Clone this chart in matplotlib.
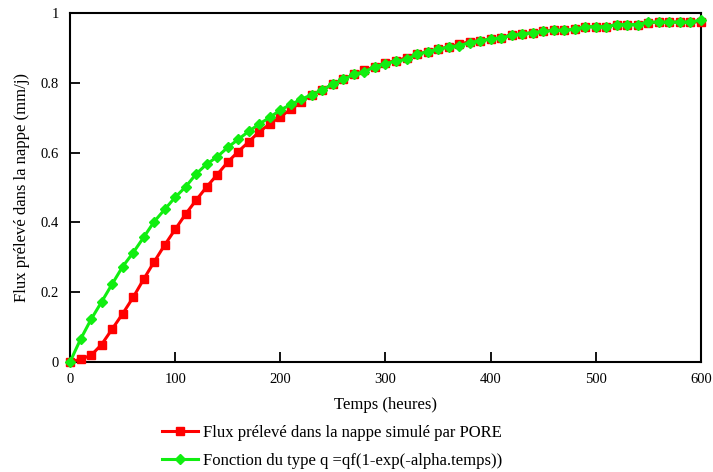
import matplotlib
matplotlib.use("Agg")
import matplotlib.pyplot as plt

plt.rcParams["font.family"] = ["Liberation Serif", "DejaVu Serif"]

# temps en heures, un point toutes les 10 h
temps = list(range(0, 610, 10))

flux_pore = [
    0.000, 0.008, 0.019, 0.050, 0.094, 0.138, 0.185, 0.237, 0.287, 0.335,
    0.380, 0.424, 0.464, 0.502, 0.537, 0.573, 0.603, 0.631, 0.660, 0.682,
    0.703, 0.724, 0.745, 0.766, 0.779, 0.796, 0.810, 0.824, 0.836, 0.846,
    0.858, 0.863, 0.872, 0.882, 0.889, 0.896, 0.903, 0.910, 0.918, 0.921,
    0.925, 0.929, 0.938, 0.940, 0.944, 0.947, 0.952, 0.951, 0.953, 0.961,
    0.961, 0.961, 0.967, 0.967, 0.967, 0.972, 0.974, 0.974, 0.974, 0.974,
    0.975,
]

flux_fonction = [
    0.000, 0.065, 0.122, 0.172, 0.223, 0.273, 0.313, 0.357, 0.402, 0.437,
    0.472, 0.502, 0.539, 0.567, 0.588, 0.615, 0.638, 0.661, 0.682, 0.701,
    0.722, 0.738, 0.753, 0.766, 0.780, 0.796, 0.810, 0.824, 0.832, 0.846,
    0.855, 0.862, 0.867, 0.882, 0.889, 0.896, 0.903, 0.906, 0.915, 0.921,
    0.925, 0.929, 0.936, 0.940, 0.944, 0.947, 0.950, 0.951, 0.953, 0.961,
    0.961, 0.961, 0.967, 0.967, 0.967, 0.974, 0.974, 0.974, 0.974, 0.974,
    0.980,
]

xticks = [0, 100, 200, 300, 400, 500, 600]
yticks = [0, 0.2, 0.4, 0.6, 0.8, 1]
ytick_labels = ["0", "0.2", "0.4", "0.6", "0.8", "1"]

fig = plt.figure(figsize=(7.13, 4.72), dpi=100)
ax = fig.add_axes([70 / 713, 1 - 362 / 472, 631 / 713, 349 / 472])

l1, = ax.plot(temps, flux_pore, color="#ff0000", lw=2.2, marker="s",
              ms=6, mec="#ff0000", mfc="#ff0000", clip_on=False, zorder=3)
l2, = ax.plot(temps, flux_fonction, color="#11ee11", lw=2.2, marker="D",
              ms=5.5, mec="#11ee11", mfc="#11ee11", clip_on=False, zorder=4)

ax.set_xlim(0, 600)
ax.set_ylim(0, 1)
ax.set_xticks(xticks)
ax.set_yticks(yticks)
ax.set_yticklabels(ytick_labels)
ax.tick_params(direction="in", length=7, width=1.3, labelsize=10.5,
               pad=8)
for s in ax.spines.values():
    s.set_linewidth(1.5)

ax.set_xlabel("Temps (heures)", fontsize=12, labelpad=8)
ax.set_ylabel("Flux prélevé dans la nappe (mm/j)", fontsize=12,
              labelpad=8)

fig.legend([l1, l2],
           ["Flux prélevé dans la nappe simulé par PORE",
            "Fonction du type q =qf(1-exp(-alpha.temps))"],
           loc="upper left", bbox_to_anchor=(155 / 713, 1 - 418 / 472),
           frameon=False, fontsize=12, handlelength=2.2,
           handletextpad=0.3, labelspacing=0.72, borderaxespad=0)

fig.savefig("out.png", dpi=100)
